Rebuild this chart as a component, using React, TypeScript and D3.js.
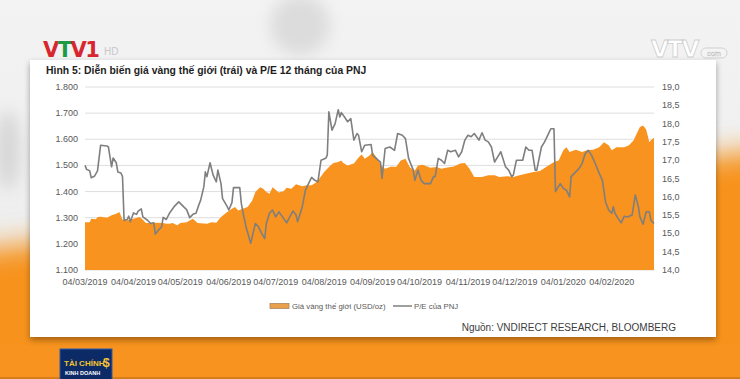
import React from "react";
import * as d3 from "d3";

// ---------- DATA ----------
const startDateLabel = "04/03/2019";
const endDateLabel = "02/03/2020";
const xTickLabels = [
  "04/03/2019", "04/04/2019", "04/05/2019", "04/06/2019", "04/07/2019", "04/08/2019",
  "04/09/2019", "04/10/2019", "04/11/2019", "04/12/2019", "04/01/2020", "04/02/2020",
];
const leftTicks = [1100, 1200, 1300, 1400, 1500, 1600, 1700, 1800];
const rightTicks = [14, 14.5, 15, 15.5, 16, 16.5, 17, 17.5, 18, 18.5, 19];

// [days since 04/03/2019, gold price USD/oz]
const goldSeries: [number, number][] = [
  [0, 1283], [3, 1283], [4, 1296], [7, 1294], [8, 1303], [10, 1304], [14, 1300], [17, 1309], [20, 1315],
  [22, 1322], [24, 1292], [27, 1290], [31, 1296], [35, 1303], [37, 1292], [39, 1280], [45, 1281], [50, 1280],
  [52, 1277], [54, 1277], [56, 1280], [59, 1271], [61, 1280], [65, 1283], [69, 1296], [72, 1280], [78, 1277],
  [81, 1283], [84, 1281], [87, 1303], [91, 1322], [94, 1334], [96, 1341], [98, 1328], [101, 1334], [104, 1341],
  [107, 1366], [109, 1398], [112, 1417], [114, 1411], [116, 1398], [118, 1392], [120, 1417], [124, 1396],
  [127, 1401], [129, 1415], [132, 1411], [135, 1428], [139, 1420], [142, 1424], [145, 1424], [148, 1436],
  [150, 1450], [153, 1475], [157, 1500], [159, 1509], [162, 1513], [164, 1519], [165, 1510], [168, 1500],
  [172, 1507], [175, 1530], [177, 1542], [179, 1526], [182, 1538], [184, 1551], [187, 1526], [190, 1496],
  [192, 1487], [196, 1496], [199, 1494], [202, 1519], [205, 1526], [208, 1491], [211, 1481], [213, 1500],
  [216, 1503], [221, 1491], [225, 1494], [228, 1487], [231, 1491], [236, 1496], [240, 1507], [243, 1509],
  [246, 1487], [249, 1456], [254, 1456], [258, 1462], [262, 1462], [265, 1456], [270, 1459], [274, 1456],
  [278, 1462], [282, 1468], [287, 1475], [291, 1479], [295, 1494], [300, 1513], [303, 1519], [306, 1558],
  [308, 1570], [310, 1551], [314, 1560], [318, 1551], [321, 1558], [325, 1560], [329, 1570], [332, 1589],
  [335, 1577], [337, 1558], [340, 1570], [345, 1570], [348, 1577], [351, 1596], [353, 1622], [355, 1647],
  [357, 1653], [359, 1637], [361, 1589], [362, 1596], [364, 1606],
];

// [days since 04/03/2019, P/E of PNJ]
const peSeries: [number, number][] = [
  [0, 16.86], [1, 16.75], [3, 16.71], [4, 16.52], [6, 16.56], [8, 16.71], [10, 17.41], [14, 17.39], [15, 17.36],
  [17, 16.82], [18, 17.06], [20, 16.93], [21, 16.68], [23, 16.65], [24, 16.55], [25, 15.36], [27, 15.38],
  [28, 15.47], [29, 15.32], [31, 15.56], [33, 15.52], [34, 15.61], [36, 15.67], [37, 15.45], [40, 15.36],
  [42, 15.27], [44, 15.29], [45, 14.98], [47, 15.09], [49, 15.18], [50, 15.44], [52, 15.38], [54, 15.55],
  [57, 15.73], [60, 15.86], [63, 15.73], [65, 15.65], [67, 15.43], [69, 15.52], [71, 15.55], [73, 15.8],
  [74, 15.91], [76, 16.27], [77, 16.68], [78, 16.55], [80, 16.93], [82, 16.59], [84, 16.41], [85, 16.73],
  [87, 16.36], [88, 15.95], [91, 15.73], [92, 15.64], [94, 15.84], [95, 16.25], [99, 16.25], [100, 15.82],
  [101, 15.59], [103, 15.18], [106, 14.73], [107, 14.91], [109, 15.27], [111, 15.18], [113, 15.0], [115, 14.86],
  [116, 15.27], [118, 15.55], [120, 15.64], [122, 15.45], [124, 15.59], [127, 15.41], [129, 15.29], [131, 15.45],
  [133, 15.61], [135, 15.5], [136, 15.32], [139, 15.73], [141, 16.18], [143, 16.36], [144, 16.45], [145, 16.53],
  [147, 16.45], [149, 16.41], [150, 16.71], [151, 17.0], [154, 17.05], [155, 17.14], [156, 18.32], [158, 17.82],
  [160, 18.0], [162, 18.38], [163, 18.18], [164, 18.3], [166, 18.18], [168, 18.05], [170, 18.14], [172, 17.55],
  [174, 17.73], [175, 17.68], [177, 17.23], [179, 17.41], [183, 17.43], [184, 17.14], [189, 16.95], [190, 16.5],
  [192, 17.32], [195, 17.36], [198, 17.27], [200, 17.73], [203, 17.68], [205, 17.59], [207, 17.05], [210, 16.73],
  [211, 16.45], [213, 16.73], [215, 16.45], [217, 16.36], [221, 16.36], [223, 16.55], [224, 16.55], [226, 17.05],
  [228, 17.0], [230, 16.91], [232, 17.27], [234, 17.23], [237, 17.27], [239, 17.09], [241, 17.23], [243, 17.55],
  [245, 17.68], [247, 17.64], [249, 17.73], [252, 17.55], [254, 17.75], [256, 17.55], [258, 17.5], [260, 17.36],
  [262, 16.95], [264, 17.09], [266, 17.23], [269, 16.82], [271, 16.73], [273, 16.55], [274, 16.59], [276, 17.0],
  [280, 17.0], [282, 17.36], [284, 17.27], [286, 17.27], [288, 16.73], [289, 16.73], [292, 17.36], [294, 17.5],
  [296, 17.68], [298, 17.86], [300, 17.86], [301, 16.14], [304, 16.36], [306, 16.23], [308, 16.18], [310, 16.0],
  [311, 16.55], [313, 16.64], [316, 16.77], [318, 16.91], [320, 17.18], [322, 17.27], [324, 17.14], [326, 16.95],
  [329, 16.64], [331, 16.45], [333, 15.86], [335, 15.64], [337, 15.55], [338, 15.73], [339, 15.55], [341, 15.41],
  [343, 15.29], [345, 15.47], [347, 15.45], [350, 15.5], [352, 16.05], [354, 15.73], [355, 15.45], [357, 15.25],
  [359, 15.59], [361, 15.59], [362, 15.36], [364, 15.27],
];

const titleText = "Hình 5: Diễn biến giá vàng thế giới (trái) và P/E 12 tháng của PNJ";
const legendGold = "Giá vàng thế giới (USD/oz)";
const legendPE = "P/E của PNJ";
const sourceText = "Nguồn: VNDIRECT RESEARCH, BLOOMBERG";

// ---------- LAYOUT ----------
const W = 740;
const H = 379;
const plot = { left: 85, right: 654, top: 87, bottom: 270 };
const FONT = "'Liberation Sans', Arial, sans-serif";
const ORANGE = "#F7931E";

export default function App() {
  const parse = d3.timeParse("%d/%m/%Y");
  const start = parse(startDateLabel) as Date;
  const end = parse(endDateLabel) as Date;
  const x = d3.scaleTime().domain([start, end]).range([plot.left, plot.right]);
  const yL = d3.scaleLinear().domain([1100, 1800]).range([plot.bottom, plot.top]);
  const yR = d3.scaleLinear().domain([14, 19]).range([plot.bottom, plot.top]);
  const vn = d3.formatLocale({ decimal: ",", thousands: ".", grouping: [3], currency: ["", ""] });
  const fL = vn.format(",.0f");
  const fR = vn.format(".1f");
  const dayOf = (d: number) => d3.timeDay.offset(start, d);

  const area = d3
    .area<[number, number]>()
    .x((d) => x(dayOf(d[0])))
    .y0(plot.bottom)
    .y1((d) => yL(d[1]));
  const line = d3
    .line<[number, number]>()
    .x((d) => x(dayOf(d[0])))
    .y((d) => yR(d[1]));

  return (
    <svg
      width={W}
      height={H}
      viewBox={`0 0 ${W} ${H}`}
      style={{ position: "fixed", left: 0, top: 0, display: "block" }}
      fontFamily={FONT}
    >
      <defs>
        <filter id="blurBig" x="-20%" y="-20%" width="140%" height="140%">
          <feGaussianBlur stdDeviation="14" />
        </filter>
        <filter id="blurSmall" x="-50%" y="-50%" width="200%" height="200%">
          <feGaussianBlur stdDeviation="8" />
        </filter>
        <filter id="panelShadow" x="-5%" y="-5%" width="110%" height="115%">
          <feDropShadow dx="0" dy="3" stdDeviation="3" floodColor="#000" floodOpacity="0.35" />
        </filter>
        <linearGradient id="topBg" x1="0" y1="0" x2="0" y2="1">
          <stop offset="0" stopColor="#f3f3f3" />
          <stop offset="1" stopColor="#ebebeb" />
        </linearGradient>
      </defs>

      {/* background */}
      <rect x={0} y={0} width={W} height={H} fill="url(#topBg)" />
      <ellipse cx={300} cy={25} rx={30} ry={30} fill="#dcdcdc" filter="url(#blurSmall)" />
      <ellipse cx={8} cy={150} rx={12} ry={40} fill="#d6d6d6" filter="url(#blurSmall)" />
      <path d="M-60,255 L800,145 L800,440 L-60,440 Z" fill={ORANGE} filter="url(#blurBig)" />
      <rect x={0} y={345} width={W} height={34} fill={ORANGE} />
      <rect x={0} y={377} width={W} height={2} fill="#c97515" opacity={0.7} />

      {/* VTV1 logo */}
      <text x={43} y={57} fontSize={21} fontWeight={900} letterSpacing={-1.5} fontFamily="'DejaVu Sans', sans-serif">
        <tspan fill="#d8262f">V</tspan>
        <tspan fill="#1f9a44">T</tspan>
        <tspan fill="#d8262f">V</tspan>
        <tspan fill="#d8262f">1</tspan>
      </text>
      <text x={104} y={55} fontSize={10} fill="#c8c8c8">
        HD
      </text>

      {/* VTV watermark top right */}
      <text
        x={651}
        y={57}
        fontSize={23}
        fontWeight={900}
        letterSpacing={-1.5}
        fill="#ffffff"
        stroke="#cfcfcf"
        strokeWidth={0.8}
        fontFamily="'DejaVu Sans', sans-serif"
      >
        VTV
      </text>
      <rect x={701} y={48} width={26} height={10} rx={5} fill="#f4f4f4" stroke="#c8c8c8" strokeWidth={0.8} />
      <text x={714} y={56} fontSize={7.5} textAnchor="middle" fill="#ffffff" stroke="#bdbdbd" strokeWidth={0.4}>
        com
      </text>

      {/* white panel */}
      <rect x={30} y={60} width={686} height={277} fill="#ffffff" filter="url(#panelShadow)" />

      {/* title */}
      <text x={46} y={74} fontSize={10.4} fontWeight="bold" fill="#1e1e1e">
        {titleText}
      </text>

      {/* gridlines */}
      {leftTicks.map((t) => (
        <line key={"g" + t} x1={plot.left} x2={plot.right} y1={yL(t)} y2={yL(t)} stroke="#dedede" strokeWidth={1} />
      ))}

      {/* gold area */}
      <path d={area(goldSeries) || ""} fill={ORANGE} />

      {/* PE line */}
      <path d={line(peSeries) || ""} fill="none" stroke="#7f7f7f" strokeWidth={1.6} strokeLinejoin="round" />

      {/* left axis labels */}
      {leftTicks.map((t) => (
        <text key={"l" + t} x={78} y={yL(t) + 3} fontSize={9} textAnchor="end" fill="#595959">
          {fL(t)}
        </text>
      ))}
      {/* right axis labels */}
      {rightTicks.map((t) => (
        <text key={"r" + t} x={662} y={yR(t) + 3} fontSize={9} textAnchor="start" fill="#595959">
          {fR(t)}
        </text>
      ))}
      {/* x axis labels */}
      {xTickLabels.map((lab) => (
        <text key={lab} x={x(parse(lab) as Date)} y={285} fontSize={9} textAnchor="middle" fill="#595959">
          {lab}
        </text>
      ))}

      {/* legend */}
      <rect x={270} y={303.5} width={19} height={5} fill="#e9a04a" stroke="#a8865e" strokeWidth={0.8} />
      <text x={292} y={309} fontSize={7.8} fill="#595959">
        {legendGold}
      </text>
      <line x1={393} x2={412} y1={306} y2={306} stroke="#7f7f7f" strokeWidth={1.5} />
      <text x={414} y={309} fontSize={7.8} fill="#595959">
        {legendPE}
      </text>

      {/* source */}
      <text x={676} y={331} fontSize={10} textAnchor="end" fill="#3c3c3c">
        {sourceText}
      </text>

      {/* Tai chinh kinh doanh logo */}
      <rect x={60} y={349} width={52} height={32} fill="#0c2a66" stroke="#2a5bb0" strokeWidth={1} />
      <text x={64} y={366} fontSize={8} fontWeight="bold" fill="#f3c531">
        TÀI CHÍNH
      </text>
      <text x={103} y={367} fontSize={12} fontWeight="bold" fill="#f3c531">
        $
      </text>
      <text x={65} y={375} fontSize={5.5} fontWeight="bold" fill="#ffffff">
        KINH DOANH
      </text>
    </svg>
  );
}
